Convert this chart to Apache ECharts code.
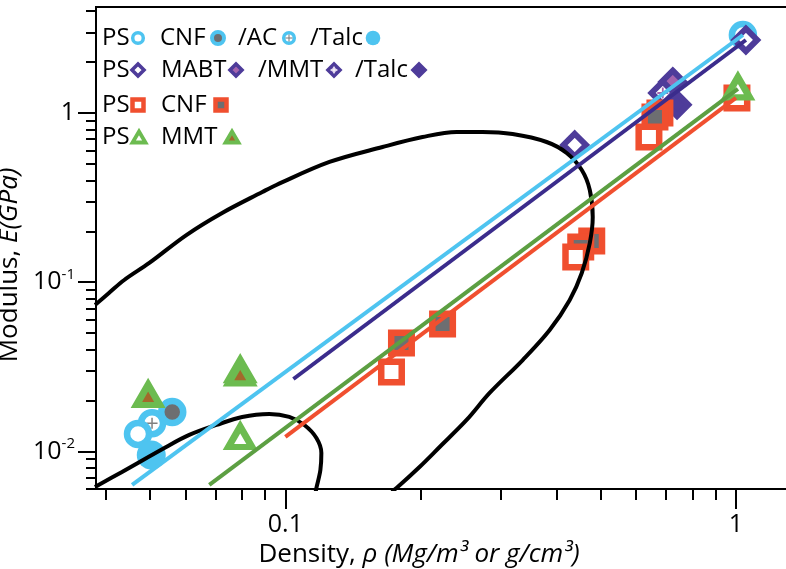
<!DOCTYPE html>
<html><head><meta charset="utf-8">
<script src="https://cdn.jsdelivr.net/npm/echarts@6/dist/echarts.min.js"></script>
<style>html,body{margin:0;padding:0;background:#fff}#c{width:786px;height:569px}</style>
</head><body><div id="c"></div>
<script>
// ---------- axes ----------
const xRange = [0.038, 1.318];
const yRange = [0.006, 4.23];
const xMajorTicks = [0.1, 1];
const xMajorLabels = ['0.1', '1'];
const xMinorTicks = [0.04,0.05,0.06,0.07,0.08,0.09,0.2,0.3,0.4,0.5,0.6,0.7,0.8,0.9];
const yMajorTicks = [0.01, 0.1, 1];
const yMajorLabels = ['{n|10}{s|-2}', '{n|10}{s|-1}', '{n|1}'];
const yMinorTicks = [0.006,0.007,0.008,0.009,0.02,0.03,0.04,0.05,0.06,0.07,0.08,0.09,0.2,0.3,0.4,0.5,0.6,0.7,0.8,0.9,2,3,4];
const xTitle = 'Density, {i|ρ (Mg/m³ or g/cm³)}';
const yTitle = 'Modulus, {i|E(GPa)}';

// ---------- data: [density, modulus] ----------
const psCircle   = [[0.0471,0.0127],[1.036,2.89]];
const cnfCircle  = [[0.0561,0.0171]];
const acCircle   = [[0.0506,0.0147]];
const talcCircle = [[0.0504,0.00953]];

const psDiamond   = [[0.4387,0.647],[1.052,2.70]];
const mabtDiamond = [[0.724,1.525]];
const mmtDiamond  = [[0.688,1.313]];
const talcDiamond = [[0.74,1.12]];

const psSquare  = [[0.172,0.0295],[0.441,0.141],[0.641,0.721],[1.005,1.226]];
const cnfSquare = [[0.181,0.0438],[0.2233,0.0567],[0.4786,0.1752],[0.4524,0.1615],[0.678,1.0],[0.661,0.947]];

const psTriangle  = [[0.0794,0.0122],[1.01,1.42]];
const mmtTriangle = [[0.0496,0.0216],[0.0794,0.0303],[0.0794,0.029]];

const blueLine   = [[0.0457,0.00635],[1.036,2.89]];
const purpleLine = [[0.1042,0.0268],[1.052,2.70]];
const greenLine  = [[0.0678,0.00634],[1.01,1.39]];
const redLine    = [[0.1,0.01218],[1.0,1.23]];

const bigEnvelope = [[0.0378,0.0734],[0.0406,0.0864],[0.0439,0.1031],[0.0499,0.130],[0.0603,0.190],[0.0724,0.2566],[0.0889,0.3413],[0.0955,0.3755],[0.1253,0.5135],[0.1643,0.6296],[0.2016,0.721],[0.2399,0.772],[0.274,0.772],[0.3194,0.751],[0.380,0.674],[0.421,0.5804],[0.4548,0.4604],[0.4738,0.3508],[0.481,0.2429],[0.4738,0.1705],[0.4548,0.1134],[0.4277,0.0786],[0.386,0.0522],[0.3363,0.0347],[0.284,0.02216],[0.2525,0.01535],[0.22,0.01063],[0.1985,0.0081],[0.1765,0.00609],[0.172,0.0058]];
const smallEnvelope = [[0.0378,0.00617],[0.0434,0.00757],[0.0544,0.01063],[0.0612,0.01252],[0.0703,0.01434],[0.0802,0.01599],[0.0921,0.01666],[0.102,0.01599],[0.1102,0.01434],[0.1172,0.01202],[0.1202,0.0098],[0.1196,0.00777],[0.1172,0.00609],[0.1168,0.0058]];

// ---------- styles ----------
const FONT = 'Open Sans';
const BLUE = '#4ec4f0', GRAY = '#6d6e71', PURPLE = '#4e3c9a', PLINE = '#3b2c8c',
      PINK = '#a464ae', RED = '#f04f2f', GREEN = '#6cbb50', GLINE = '#5c9f42', BROWN = '#a3692b';

const L = v => Math.log10(v);
const toLog = arr => arr.map(p => [L(p[0]), L(p[1])]);
const near = (a, b) => Math.abs(a - b) < 1e-6;

function sc(data, symbol, size, style, extra) {
  return Object.assign({
    type: 'scatter', data: toLog(data), symbol, symbolSize: size, silent: true,
    itemStyle: Object.assign({ borderJoin: 'miter', opacity: 1 }, style),
    emphasis: { disabled: true }
  }, extra || {});
}
function ln(data, color, width, smooth) {
  return { type: 'line', data: toLog(data), symbol: 'none', silent: true, smooth: smooth || false,
    lineStyle: { color, width, cap: 'butt' }, emphasis: { disabled: true } };
}
const CROSS = 'path://M0,5L10,5M5,0L5,10';

const series = [
  ln(bigEnvelope, '#000', 4, 0.35),
  ln(smallEnvelope, '#000', 4, 0.35),
  sc(acCircle, 'circle', 22, { color: '#fff', borderColor: BLUE, borderWidth: 6.5 }),
  sc(acCircle, CROSS, 11, { color: 'none', borderColor: '#808080', borderWidth: 1.5, borderJoin: 'round' }),
  sc(cnfCircle, 'circle', 22, { color: GRAY, borderColor: BLUE, borderWidth: 6.5 }),
  sc(psCircle, 'circle', 22, { color: '#fff', borderColor: BLUE, borderWidth: 6.5 }),
  sc(talcCircle, 'circle', 29, { color: BLUE }),
  ln(blueLine, BLUE, 4),
  ln(purpleLine, PLINE, 4),
  ln(redLine, RED, 4),
  sc(mabtDiamond, 'diamond', 22.5, { color: PINK, borderColor: PURPLE, borderWidth: 6 }),
  sc(mmtDiamond, 'diamond', 22.5, { color: '#fff', borderColor: PURPLE, borderWidth: 6 }),
  sc(mmtDiamond, CROSS, 11, { color: 'none', borderColor: PINK, borderWidth: 1.8, borderJoin: 'round' }),
  sc(talcDiamond, 'diamond', 22.5, { color: PURPLE, borderColor: PURPLE, borderWidth: 6 }),
  sc(psDiamond, 'diamond', 22.5, { color: '#fff', borderColor: PURPLE, borderWidth: 6 }),
  sc(cnfSquare, 'rect', 20.5, { color: GRAY, borderColor: RED, borderWidth: 6.5 }),
  sc(psSquare, 'rect', 20.5, { color: '#fff', borderColor: RED, borderWidth: 6.5 }),
  ln(greenLine, GLINE, 4),
  sc(mmtTriangle, 'triangle', [23.5, 20.3], { color: BROWN, borderColor: GREEN, borderWidth: 6.6 }),
  sc(psTriangle, 'triangle', [23.5, 20.3], { color: '#fff', borderColor: GREEN, borderWidth: 6.6 })
];

// ---------- legend (text + marker keys drawn as graphics) ----------
const legendRows = [
  { y: 38, items: [
    { t: 'PS', x: 102, k: 'cOpen', kx: 138 }, { t: 'CNF', x: 160, k: 'cCnf', kx: 218 },
    { t: '/AC', x: 238, k: 'cAc', kx: 289 }, { t: '/Talc', x: 310, k: 'cTalc', kx: 373 } ] },
  { y: 70, items: [
    { t: 'PS', x: 102, k: 'dOpen', kx: 138 }, { t: 'MABT', x: 161, k: 'dMabt', kx: 236 },
    { t: '/MMT', x: 258, k: 'dMmt', kx: 334 }, { t: '/Talc', x: 355, k: 'dTalc', kx: 419 } ] },
  { y: 105, items: [
    { t: 'PS', x: 102, k: 'sOpen', kx: 138 }, { t: 'CNF', x: 161, k: 'sCnf', kx: 221 } ] },
  { y: 137, items: [
    { t: 'PS', x: 102, k: 'tOpen', kx: 139 }, { t: 'MMT', x: 161, k: 'tMmt', kx: 232 } ] }
];
function key(k, cx, cy) {
  const out = [];
  const dia = (fill) => ({ type: 'polygon', shape: { points: [[cx, cy - 6], [cx + 6, cy], [cx, cy + 6], [cx - 6, cy]] },
    style: { fill, stroke: PURPLE, lineWidth: 3.6, lineJoin: 'miter' } });
  const cross = (c) => [
    { type: 'line', shape: { x1: cx - 3.5, y1: cy, x2: cx + 3.5, y2: cy }, style: { stroke: c, lineWidth: 1 } },
    { type: 'line', shape: { x1: cx, y1: cy - 3.5, x2: cx, y2: cy + 3.5 }, style: { stroke: c, lineWidth: 1 } } ];
  const sq = (fill) => ({ type: 'rect', shape: { x: cx - 5.5, y: cy - 5.5, width: 11, height: 11 },
    style: { fill, stroke: RED, lineWidth: 4.5, lineJoin: 'miter' } });
  const tri = (fill) => ({ type: 'polygon', shape: { points: [[cx, cy - 5.5], [cx + 6.5, cy + 5.5], [cx - 6.5, cy + 5.5]] },
    style: { fill, stroke: GREEN, lineWidth: 3.8, lineJoin: 'miter' } });
  switch (k) {
    case 'cOpen': out.push({ type: 'circle', shape: { cx, cy, r: 5.3 }, style: { fill: '#fff', stroke: BLUE, lineWidth: 3.5 } }); break;
    case 'cCnf': out.push({ type: 'circle', shape: { cx, cy, r: 6 }, style: { fill: GRAY, stroke: BLUE, lineWidth: 4 } }); break;
    case 'cAc': out.push({ type: 'circle', shape: { cx, cy, r: 5.3 }, style: { fill: '#fff', stroke: BLUE, lineWidth: 3.5 } }, ...cross('#777')); break;
    case 'cTalc': out.push({ type: 'circle', shape: { cx, cy, r: 7.3 }, style: { fill: BLUE } }); break;
    case 'dOpen': out.push(dia('#fff')); break;
    case 'dMabt': out.push(dia(PINK)); break;
    case 'dMmt': out.push(dia('#c9b6e0'), ...cross('#fff')); break;
    case 'dTalc': out.push(dia(PURPLE)); break;
    case 'sOpen': out.push(sq('#fff')); break;
    case 'sCnf': out.push(sq(GRAY)); break;
    case 'tOpen': out.push(tri('#fff')); break;
    case 'tMmt': out.push(tri(BROWN)); break;
  }
  return out;
}
const graphic = [];
legendRows.forEach(r => r.items.forEach(it => {
  graphic.push({ type: 'text', x: it.x, y: r.y, silent: true,
    style: { text: it.t, font: '24px "' + FONT + '"', fill: '#000', verticalAlign: 'middle', align: 'left' } });
  key(it.k, it.kx, r.y).forEach(g => { g.silent = true; graphic.push(g); });
}));

const labelOf = (ticks, labels) => v => { const i = ticks.findIndex(t => near(L(t), v)); return i >= 0 ? labels[i] : ''; };

const axisCommon = { type: 'value', splitLine: { show: false }, silent: true };
const option = {
  animation: false,
  backgroundColor: '#fff',
  grid: { left: 96, top: 7, right: -4, bottom: 80, containLabel: false, outerBoundsMode: 'none',
    show: true, borderColor: '#000', borderWidth: 2, backgroundColor: 'transparent' },
  xAxis: [
    Object.assign({}, axisCommon, {
      min: L(xRange[0]), max: L(xRange[1]), position: 'bottom',
      axisLine: { show: true, onZero: false, lineStyle: { color: '#000', width: 2 } },
      axisTick: { show: true, inside: false, customValues: xMajorTicks.map(L), length: 20, lineStyle: { color: '#000', width: 2 } },
      axisLabel: { show: true, inside: false, customValues: xMajorTicks.map(L), margin: 23, formatter: labelOf(xMajorTicks, xMajorLabels),
        fontFamily: FONT, fontSize: 25, color: '#000' },
      name: xTitle, nameLocation: 'middle', nameGap: 45,
      nameTextStyle: { fontFamily: FONT, fontSize: 26, color: '#000', padding: [0, 48, 0, 0],
        rich: { i: { fontFamily: FONT, fontSize: 26, fontStyle: 'italic', color: '#000' } } }
    }),
    Object.assign({}, axisCommon, {
      min: L(xRange[0]), max: L(xRange[1]), position: 'bottom',
      axisLine: { show: false, onZero: false },
      axisTick: { show: true, inside: false, customValues: xMinorTicks.map(L), length: 11, lineStyle: { color: '#000', width: 2 } },
      axisLabel: { show: false }
    })
  ],
  yAxis: [
    Object.assign({}, axisCommon, {
      min: L(yRange[0]), max: L(yRange[1]), position: 'left',
      axisLine: { show: true, onZero: false, lineStyle: { color: '#000', width: 2 } },
      axisTick: { show: true, inside: false, customValues: yMajorTicks.map(L), length: 18, lineStyle: { color: '#000', width: 2 } },
      axisLabel: { show: true, inside: false, customValues: yMajorTicks.map(L), margin: 21, formatter: labelOf(yMajorTicks, yMajorLabels),
        color: '#000',
        rich: { n: { fontFamily: FONT, fontSize: 25, lineHeight: 30, color: '#000' },
                s: { fontFamily: FONT, fontSize: 15, lineHeight: 16, verticalAlign: 'top', color: '#000' } } },
      name: yTitle, nameLocation: 'middle', nameGap: 58,
      nameTextStyle: { fontFamily: FONT, fontSize: 26, color: '#000', padding: [0, 34, 0, 0],
        rich: { i: { fontFamily: FONT, fontSize: 26, fontStyle: 'italic', color: '#000' } } }
    }),
    Object.assign({}, axisCommon, {
      min: L(yRange[0]), max: L(yRange[1]), position: 'left',
      axisLine: { show: false, onZero: false },
      axisTick: { show: true, inside: false, customValues: yMinorTicks.map(L), length: 10, lineStyle: { color: '#000', width: 2 } },
      axisLabel: { show: false }
    })
  ],
  series,
  graphic
};
const chart = echarts.init(document.getElementById('c'), null, { renderer: 'canvas' });
chart.setOption(option);
</script></body></html>
